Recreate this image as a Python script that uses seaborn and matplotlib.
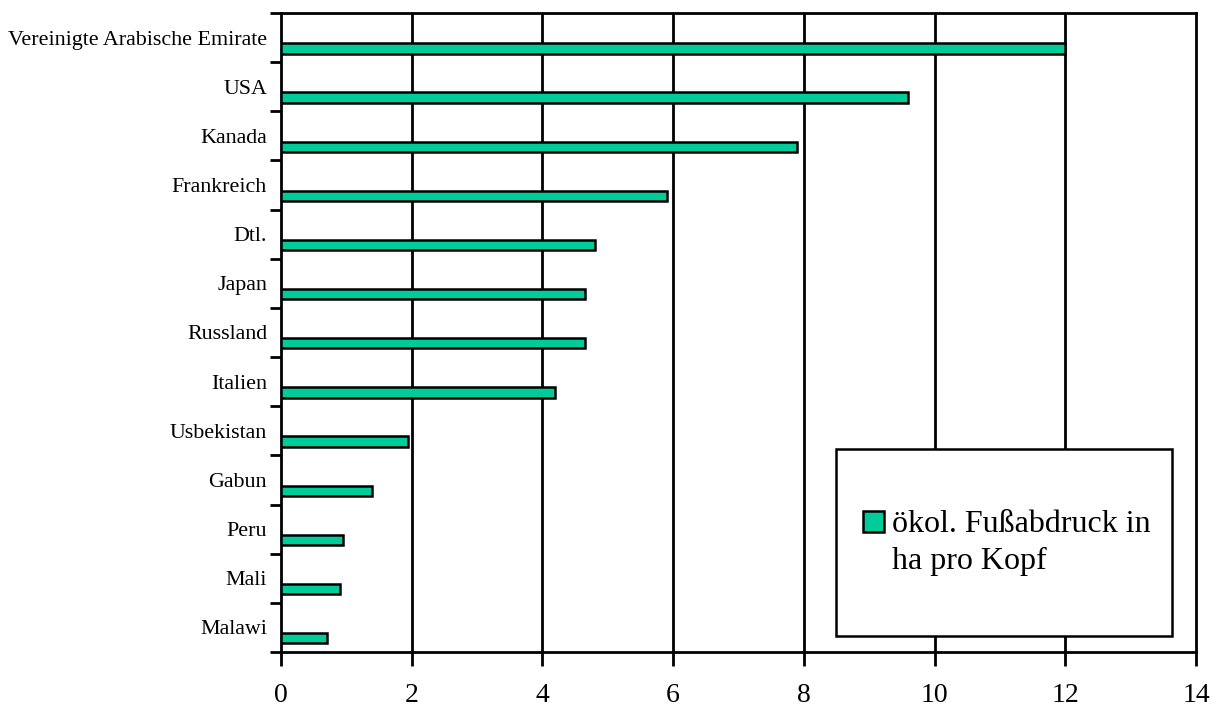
import matplotlib
matplotlib.use("Agg")
import matplotlib.pyplot as plt
from matplotlib.patches import Rectangle
from matplotlib.legend_handler import HandlerPatch
from matplotlib.ticker import FixedLocator
import seaborn as sns
import pandas as pd

countries = [
    "Vereinigte Arabische Emirate", "USA", "Kanada", "Frankreich", "Dtl.",
    "Japan", "Russland", "Italien", "Usbekistan", "Gabun", "Peru", "Mali", "Malawi",
]
footprint = [12.0, 9.6, 7.9, 5.9, 4.8, 4.65, 4.65, 4.2, 1.95, 1.4, 0.95, 0.9, 0.7]
x_ticks = [0, 2, 4, 6, 8, 10, 12, 14]
legend_label = "ökol. Fußabdruck in\nha pro Kopf"

df = pd.DataFrame({"Land": countries, "Wert": footprint})

sns.set_style("white")
plt.rcParams["font.family"] = ["Liberation Serif", "DejaVu Serif"]
plt.rcParams["text.color"] = "black"
plt.rcParams["xtick.color"] = "black"
plt.rcParams["ytick.color"] = "black"

fig = plt.figure(figsize=(12.2, 7.09), dpi=100)
ax = fig.add_axes([0.2303, 0.0804, 0.75, 0.9013])

bar_color = "#00CC99"
bar_w = 0.21
sns.barplot(data=df, x="Wert", y="Land", orient="h", color=bar_color,
            saturation=1, width=bar_w, edgecolor="black", linewidth=1.8,
            ax=ax, zorder=3)
# shift bars towards the lower part of each category band
for p in ax.patches:
    p.set_y(p.get_y() + 0.22)

ax.set_xlim(0, 14)
ax.set_ylim(len(countries) - 0.5, -0.5)
ax.set_xticks(x_ticks)
ax.set_xticklabels([str(t) for t in x_ticks], fontsize=20)
ax.set_xlabel("")
ax.set_ylabel("")

ax.set_yticks(range(len(countries)))
ax.set_yticklabels(countries, fontsize=15.8)
ax.tick_params(axis="y", which="major", length=0, pad=10)
ax.yaxis.set_minor_locator(FixedLocator([i - 0.5 for i in range(len(countries) + 1)]))
ax.tick_params(axis="y", which="minor", left=True, length=8, width=2,
               direction="out", color="black")
ax.tick_params(axis="x", which="major", length=10, width=2, direction="out",
               color="black", pad=12, bottom=True)

for v in x_ticks[1:-1]:
    ax.axvline(v, color="black", linewidth=2, zorder=1)

for s in ax.spines.values():
    s.set_color("black")
    s.set_linewidth(2)
    s.set_visible(True)

# legend box
fig.patches.append(Rectangle((836 / 1220, 1 - 636 / 709), (1172 - 836) / 1220,
                             (636 - 449) / 709, transform=fig.transFigure,
                             facecolor="white", edgecolor="black", linewidth=1.8,
                             zorder=5))


def top_square(legend, orig_handle, xdescent, ydescent, width, height, fontsize):
    # square sitting on the first text line
    s = width
    return Rectangle((-xdescent, -ydescent + height - s + 0.12 * fontsize), s, s)


handle = Rectangle((0, 0), 1, 1, facecolor=bar_color, edgecolor="black", linewidth=1.8)
leg = fig.legend([handle], [legend_label], loc="upper left",
                 bbox_to_anchor=(863 / 1220, 1 - 510 / 709), frameon=False,
                 fontsize=23, handlelength=0.66, handleheight=2.4, handletextpad=0.25,
                 borderaxespad=0, borderpad=0,
                 handler_map={Rectangle: HandlerPatch(patch_func=top_square)})
leg.set_zorder(6)
for t in leg.get_texts():
    t.set_linespacing(1.35)

fig.savefig("out.png", dpi=100)
